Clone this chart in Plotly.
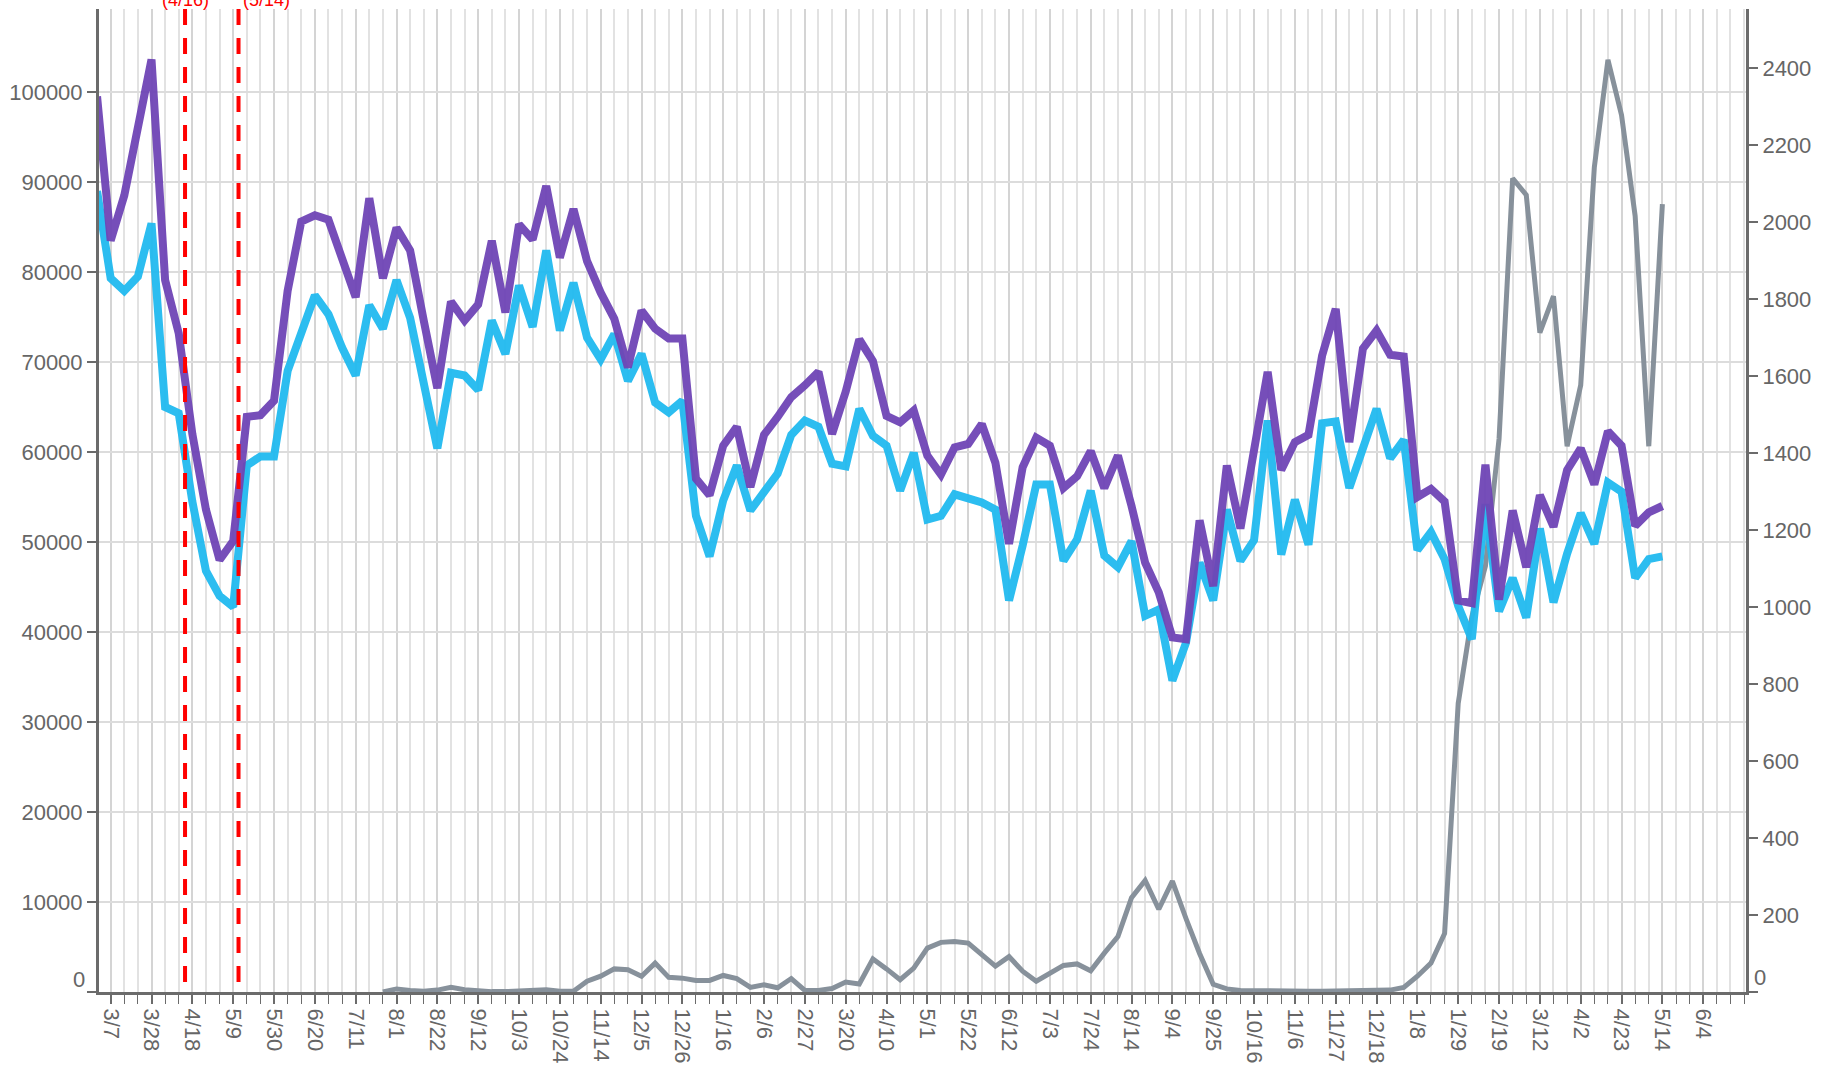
import pandas as pd
import plotly.graph_objects as go

# Weekly series, one value per Saturday starting 2020-02-29
FIRST_WEEK = '2020-02-29'

PURPLE_VALUES = [
    99500, 83500, 88500, 96000, 103600, 79100, 73200, 62000, 53600, 48000,
    50100, 63900, 64100, 65700, 77900, 85600, 86300, 85800, 81200, 77200,
    88200, 79300, 84900, 82400, 74600, 67100, 76700, 74600, 76400, 83460,
    75500, 85300, 83600, 89560, 81600, 87000, 81200, 77700, 74800, 69400,
    75700, 73700, 72600, 72600, 57050, 55200, 60700, 62800, 56100, 61900,
    63900, 66100, 67400, 68900, 62000, 66700, 72500, 70100, 64000, 63300,
    64600, 59600, 57500, 60500, 60900, 63100, 58800, 49800, 58300, 61600,
    60700, 56000, 57300, 60100, 56000, 59600, 54000, 47700, 44400, 39400,
    39200, 52400, 45100, 58500, 51500, 60400, 68900, 58000, 61100, 61900,
    70700, 75900, 61100, 71500, 73500, 70800, 70600, 55000, 55900, 54500,
    43500, 43200, 58600, 43600, 53500, 47200, 55200, 51700, 58000, 60400,
    56400, 62300, 60700, 51800, 53300, 54000,
]

BLUE_VALUES = [
    89000, 79300, 77900, 79500, 85400, 65000, 64300, 54500, 46800, 44000,
    42800, 58500, 59500, 59500, 69000, 73200, 77400, 75300, 71600, 68500,
    76300, 73700, 79100, 74900, 67600, 60400, 68800, 68500, 66900, 74600,
    70900, 78500, 73900, 82400, 73500, 78800, 72700, 70300, 73100, 67900,
    70900, 65500, 64400, 65700, 52900, 48400, 54600, 58500, 53500, 55400,
    57600, 61900, 63500, 62800, 58700, 58400, 64800, 61800, 60700, 55700,
    59900, 52500, 52900, 55300, 54900, 54400, 53600, 43500, 49600, 56400,
    56400, 47900, 50300, 55700, 48500, 47200, 50100, 41800, 42500, 34600,
    38800, 47700, 43500, 53600, 47900, 50200, 63500, 48600, 54700, 49700,
    63200, 63400, 56000, 60400, 64800, 59300, 61350, 49100, 51100, 48100,
    42900, 39200, 54200, 42300, 46000, 41600, 51500, 43300, 48700, 53200,
    49800, 56600, 55600, 46000, 48100, 48400,
]

# right axis series (no data before late July 2020)
GRAY_VALUES = [
    None, None, None, None, None, None, None, None, None, None,
    None, None, None, None, None, None, None, None, None, None,
    None, 0, 8, 4, 2, 5, 12, 6, 2, 1,
    1, 2, 3, 6, 2, 2, 28, 41, 60, 58,
    41, 75, 38, 36, 30, 30, 43, 35, 12, 19,
    11, 35, 4, 4, 9, 26, 21, 86, 60, 32,
    62, 114, 129, 131, 127, 97, 67, 92, 54, 28,
    49, 69, 73, 55, 101, 144, 245, 290, 215, 288,
    191, 100, 20, 8, 4, 3, 2, 2, 2, 2,
    2, 2, 2, 2, 3, 5, 12, 41, 75, 152,
    750, 975, 1107, 1437, 2114, 2071, 1713, 1808, 1418, 1577,
    2143, 2422, 2278, 2016, 1418, 2047,
]

TICK_DATES = [
    '2020-03-07', '2020-03-28', '2020-04-18', '2020-05-09', '2020-05-30',
    '2020-06-20', '2020-07-11', '2020-08-01', '2020-08-22', '2020-09-12',
    '2020-10-03', '2020-10-24', '2020-11-14', '2020-12-05', '2020-12-26',
    '2021-01-16', '2021-02-06', '2021-02-27', '2021-03-20', '2021-04-10',
    '2021-05-01', '2021-05-22', '2021-06-12', '2021-07-03', '2021-07-24',
    '2021-08-14', '2021-09-04', '2021-09-25', '2021-10-16', '2021-11-06',
    '2021-11-27', '2021-12-18', '2022-01-08', '2022-01-29', '2022-02-19',
    '2022-03-12', '2022-04-02', '2022-04-23', '2022-05-14', '2022-06-04',
]
TICK_LABELS = [
    '3/7', '3/28', '4/18', '5/9', '5/30', '6/20', '7/11', '8/1', '8/22', '9/12',
    '10/3', '10/24', '11/14', '12/5', '12/26', '1/16', '2/6', '2/27', '3/20', '4/10',
    '5/1', '5/22', '6/12', '7/3', '7/24', '8/14', '9/4', '9/25', '10/16', '11/6',
    '11/27', '12/18', '1/8', '1/29', '2/19', '3/12', '4/2', '4/23', '5/14', '6/4',
]

LEFT_TICKS = [0, 10000, 20000, 30000, 40000, 50000, 60000, 70000, 80000, 90000, 100000]
RIGHT_TICKS = [0, 200, 400, 600, 800, 1000, 1200, 1400, 1600, 1800, 2000, 2200, 2400]

# event markers: (position, label)
EVENT_DATES = ['2020-04-14 06:00', '2020-05-11 18:00']
EVENT_LABELS = ['(4/16)', '(5/14)']

COLOR_PURPLE = '#6f45b6'
COLOR_BLUE = '#21baf0'
COLOR_GRAY = '#87919b'
COLOR_AXIS = '#6b6b6b'
COLOR_TEXT = '#666666'
FONT = 'Liberation Sans, Arial, sans-serif'

weeks = pd.date_range(FIRST_WEEK, periods=len(PURPLE_VALUES), freq='7D')

fig = go.Figure()

# gray series lives on the primary (right-hand) axis so it sits underneath
fig.add_trace(go.Scatter(
    x=weeks, y=GRAY_VALUES, yaxis='y', mode='lines',
    line=dict(color=COLOR_GRAY, width=5), connectgaps=False,
))
fig.add_trace(go.Scatter(
    x=weeks, y=BLUE_VALUES, yaxis='y2', mode='lines',
    line=dict(color=COLOR_BLUE, width=8), opacity=0.95,
))
fig.add_trace(go.Scatter(
    x=weeks, y=PURPLE_VALUES, yaxis='y2', mode='lines',
    line=dict(color=COLOR_PURPLE, width=8), opacity=0.95,
))

for d in EVENT_DATES:
    fig.add_shape(type='line', xref='x', yref='paper', x0=d, x1=d, y0=1, y1=0,
                  line=dict(color='#ff0000', width=4, dash='16px,13px'), layer='above')

fig.add_annotation(x=EVENT_DATES[0], xref='x', y=1, yref='paper', text=EVENT_LABELS[0],
                   showarrow=False, xanchor='center', yanchor='middle', yshift=9,
                   font=dict(family=FONT, size=18, color='#ff0000'))
fig.add_annotation(x=EVENT_DATES[1], xref='x', y=1, yref='paper', text=EVENT_LABELS[1],
                   showarrow=False, xanchor='left', yanchor='middle', yshift=9, xshift=2,
                   font=dict(family=FONT, size=18, color='#ff0000'))

# zero labels sit a little above their ticks
fig.add_annotation(x=0, xref='paper', y=0, yref='y2', text='0', showarrow=False,
                   xanchor='right', yanchor='middle', xshift=-12, yshift=13,
                   font=dict(family=FONT, size=22, color=COLOR_TEXT))
fig.add_annotation(x=1, xref='paper', y=0, yref='y', text='0', showarrow=False,
                   xanchor='left', yanchor='middle', xshift=6, yshift=15,
                   font=dict(family=FONT, size=22, color=COLOR_TEXT))

fig.update_layout(
    width=1835, height=1081,
    margin=dict(l=99, r=89, t=9, b=89),
    plot_bgcolor='white', paper_bgcolor='white',
    showlegend=False,
    font=dict(family=FONT, size=22, color=COLOR_TEXT),
    xaxis=dict(
        type='date', range=['2020-03-01', '2022-06-26'], automargin=False,
        tickvals=TICK_DATES, ticktext=TICK_LABELS, tickangle=90,
        tickfont=dict(size=22, color=COLOR_TEXT),
        ticks='outside', ticklen=9, tickwidth=2, tickcolor=COLOR_AXIS,
        showgrid=True, gridcolor='#d4d4d4', gridwidth=2,
        showline=True, linecolor=COLOR_AXIS, linewidth=3,
        zeroline=False,
        minor=dict(dtick=7 * 86400000, tick0='2020-03-07', ticks='outside',
                   ticklen=9, tickwidth=1, tickcolor=COLOR_AXIS,
                   showgrid=True, gridcolor='#e2e2e2', gridwidth=1.5),
    ),
    yaxis=dict(
        side='right', range=[0, 2554], automargin=False,
        tickvals=RIGHT_TICKS, ticktext=[''] + [str(v) for v in RIGHT_TICKS[1:]],
        ticks='outside', ticklen=9, tickwidth=2, tickcolor=COLOR_AXIS,
        showgrid=False, zeroline=False,
        showline=True, linecolor=COLOR_AXIS, linewidth=3,
        tickfont=dict(size=22, color=COLOR_TEXT),
    ),
    yaxis2=dict(
        side='left', overlaying='y', range=[0, 109222], automargin=False,
        tickvals=LEFT_TICKS, ticktext=[''] + [str(v) for v in LEFT_TICKS[1:]],
        ticks='outside', ticklen=9, tickwidth=2, tickcolor=COLOR_AXIS,
        showgrid=True, gridcolor='#dcdcdc', gridwidth=2, zeroline=False,
        showline=True, linecolor=COLOR_AXIS, linewidth=3,
        tickfont=dict(size=22, color=COLOR_TEXT),
    ),
)

# the page body has a default 8px margin; drop it so the figure sits at the window corner
fig.write_html('out.html', config={'displayModeBar': False},
               post_script="document.body.style.margin='0';")
